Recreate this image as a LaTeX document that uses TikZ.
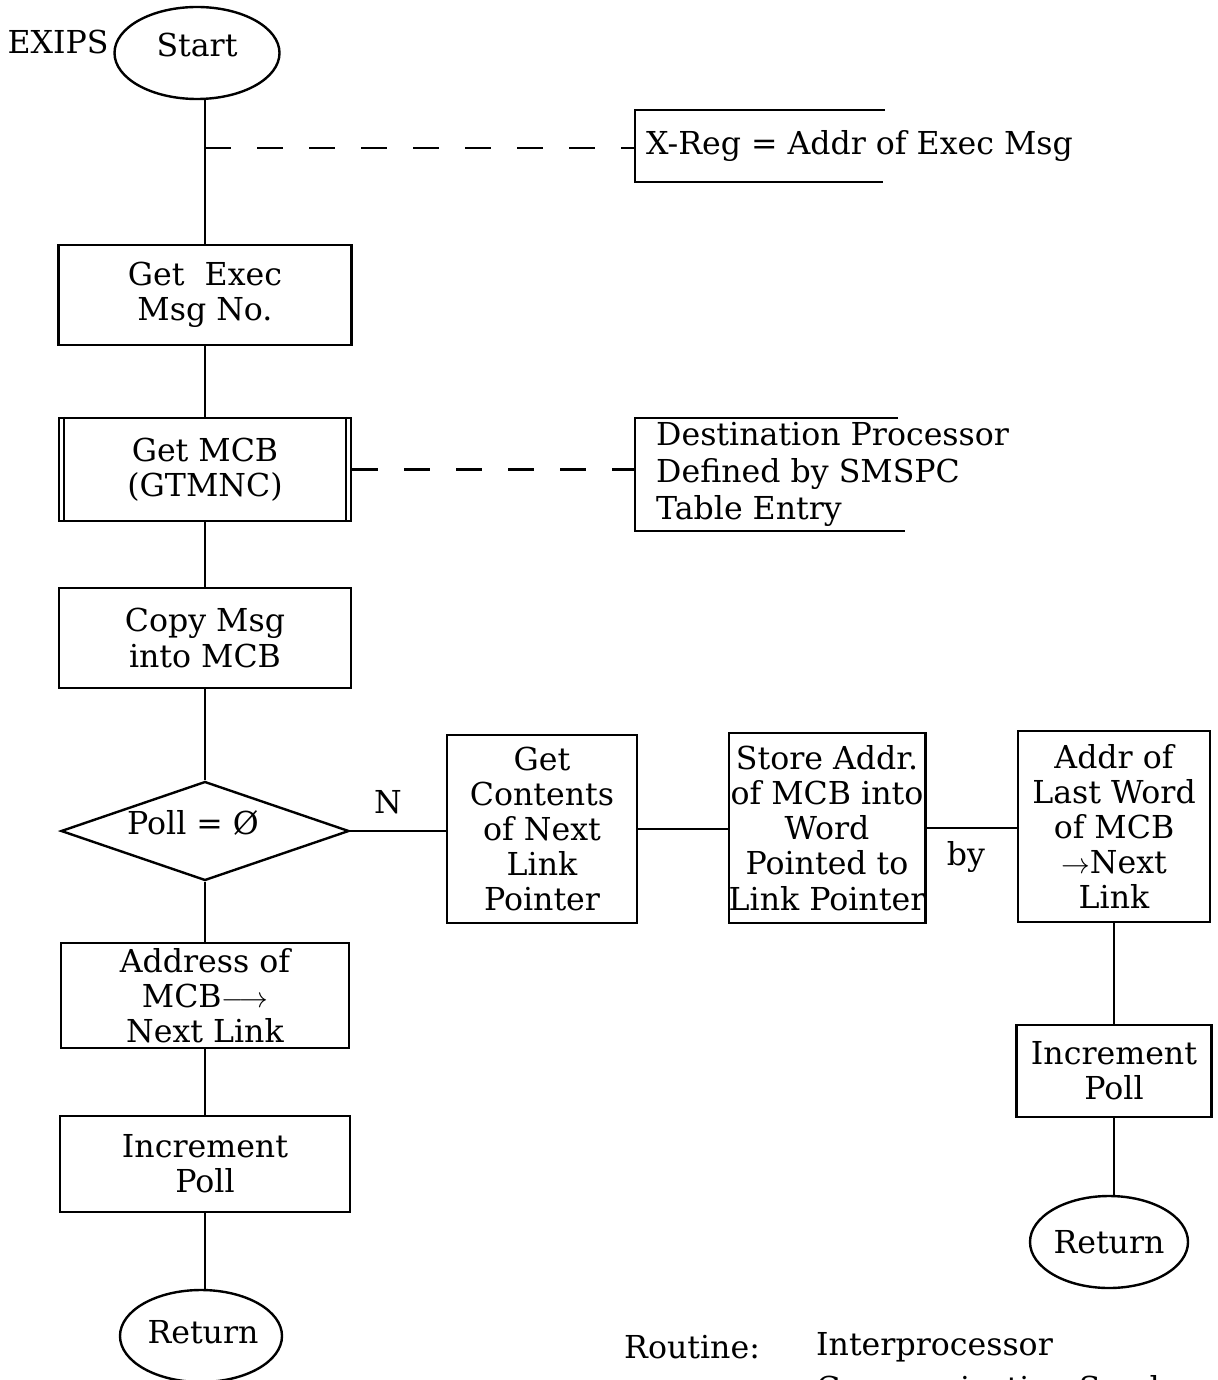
\documentclass[tikz,border=0pt]{standalone}
\usepackage{fontspec}
\setmainfont{DejaVu Serif}
\usetikzlibrary{shapes.geometric}
\begin{document}
\begin{tikzpicture}[x=0.5pt,y=-0.5pt, line width=1.2pt,
  every node/.style={font=\fontsize{15.8}{17.6}\selectfont, inner sep=0pt},
  box/.style={draw, rectangle, align=center},
  term/.style={draw, ellipse},
  dashln/.style={dash pattern=on 13pt off 13pt}]
\useasboundingbox (0,0) rectangle (1217,1380);
% left column
\node (exips) at (58,42) {EXIPS};
\node[term, minimum width=82.5pt, minimum height=46pt] (start) at (197,53) {};
\node (starttxt) at (197,45) {Start};
\node[box, minimum width=146.5pt, minimum height=50pt] (b1) at (205,295) {Get\ \ Exec\\Msg No.};
\node[box, minimum width=146pt, minimum height=51.5pt] (b2) at (205,469.5) {Get MCB\\(GTMNC)};
\draw ([xshift=3pt]b2.north west) -- ([xshift=3pt]b2.south west);
\draw ([xshift=-3pt]b2.north east) -- ([xshift=-3pt]b2.south east);
\node[box, minimum width=146pt, minimum height=50pt] (b3) at (205,638) {Copy Msg\\into MCB};
\node[draw, diamond, minimum width=144pt, minimum height=49.5pt] (d) at (205,831) {};
\node (dtxt) at (193,823) {Poll = Ø};
\node[box, minimum width=144pt, minimum height=52.5pt] (am) at (205,995.5) {Address of\\MCB$\longrightarrow$\\Next Link};
\node[box, minimum width=145pt, minimum height=48pt] (ip1) at (205,1164) {Increment\\Poll};
\node[term, minimum width=81pt, minimum height=46pt] (ret1) at (201,1336) {};
\node (ret1txt) at (203,1332) {Return};
% right chain
\node[box, minimum width=95pt, minimum height=94pt] (gc) at (542,829) {Get\\Contents\\of Next\\Link\\Pointer};
\node[box, minimum width=97pt, minimum height=95pt] (sa) at (827,828) {Store Addr.\\of MCB into\\Word\\Pointed to\\Link Pointer};
\node[box, minimum width=96pt, minimum height=95.5pt] (al) at (1114,826.5) {Addr of\\Last Word\\of MCB\\$\rightarrow$Next\\Link};
\node[box, minimum width=97.5pt, minimum height=46pt] (ip2) at (1114,1071) {Increment\\Poll};
\node[term, minimum width=79pt, minimum height=46pt] (ret2) at (1109,1242) {Return};
\node (nlab) at (388,802) {N};
\node (bylab) at (966,857) {by};
% annotations
\coordinate (j1) at (205,148);
\coordinate (br1) at (635,148);
\draw (885,110) -- (635,110) -- (635,182) -- (883,182);
\node[anchor=west] (xreg) at (645,146) {X-Reg = Addr of Exec Msg};
\coordinate (br2) at (635,469.5);
\draw (898,418) -- (635,418) -- (635,531) -- (905,531);
\node[anchor=west, align=left, font=\fontsize{15.8}{18.5}\selectfont] (dest) at (655,474) {Destination Processor\\Defined by SMSPC\\Table Entry};
% connectors
\draw (b1.north) -- (b1.north |- start.south);
\draw[dashln] (j1) -- (br1);
\draw (b1.south) -- (b2.north);
\draw[dashln] (b2.east) -- (br2);
\draw (b2.south) -- (b3.north);
\draw (b3.south) -- (d.north);
\draw (d.east) -- (d.east -| gc.west);
\draw (gc.east) -- (gc.east -| sa.west);
\draw (sa.east) -- (sa.east -| al.west);
\draw (al.south) -- (ip2.north);
\draw (ip2.south) -- (ip2.south |- ret2.north);
\draw (d.south) -- (am.north);
\draw (am.south) -- (ip1.north);
\draw (ip1.south) -- (ip1.south |- ret1.north);
% footer
\node[anchor=west] (rt) at (623,1347) {Routine:};
\node[anchor=west] (ipc) at (815,1347) {Interprocessor};
\node[anchor=west] (cs) at (815,1388) {Communication Sender};
\end{tikzpicture}
\end{document}
